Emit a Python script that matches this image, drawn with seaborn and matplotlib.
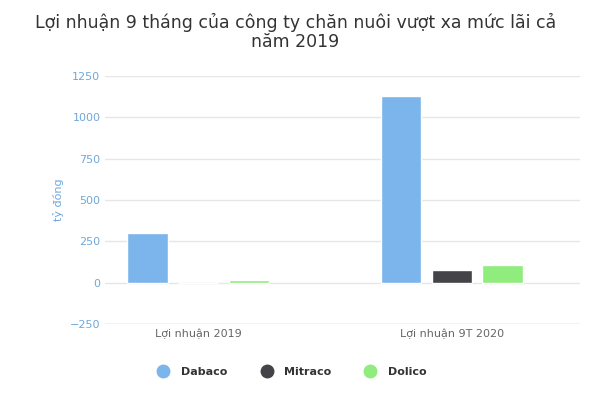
import matplotlib.pyplot as plt
import pandas as pd
import seaborn as sns

groups = ["Lợi nhuận 2019", "Lợi nhuận 9T 2020"]
companies = ["Dabaco", "Mitraco", "Dolico"]
dabaco = [298, 1127]
mitraco = [1, 78]
dolico = [18, 108]
colors = ["#7cb5ec", "#434348", "#90ed7d"]

df = pd.DataFrame({
    "group": groups * 3,
    "company": [c for c in companies for _ in groups],
    "value": dabaco + mitraco + dolico,
})

sns.set_style("white")
fig = plt.figure(figsize=(5.91, 4.0), dpi=100)
ax = fig.add_axes([0.178, 0.19, 0.803, 0.62])
sns.barplot(data=df, x="group", y="value", hue="company", palette=colors,
            width=0.6, gap=0.2, saturation=1, ax=ax, legend=False)

ax.set_xlim(-0.366, 1.504)
ax.set_ylim(-250, 1250)
ax.set_yticks(range(-250, 1251, 250))
ax.yaxis.grid(True, color="#e6e6e6", lw=1)
ax.set_axisbelow(True)
for s in ["top", "right", "left", "bottom"]:
    ax.spines[s].set_visible(False)
ax.axhline(-250, color="#ccd6eb", lw=1)
ax.tick_params(axis="y", colors="#6fa8dc", labelsize=8, length=0)
ax.tick_params(axis="x", colors="#666666", labelsize=8, length=0)
ax.set_xlabel("")
ax.set_ylabel("tỷ đồng", color="#6fa8dc", fontsize=8)

fig.text(0.5, 0.92, "Lợi nhuận 9 tháng của công ty chăn nuôi vượt xa mức lãi cả\nnăm 2019",
         ha="center", va="center", fontsize=12.5, color="#333333", linespacing=1.1)

handles = [plt.Line2D([], [], marker="o", ls="", color=c, markersize=9) for c in colors]
fig.legend(handles, companies, loc="center", bbox_to_anchor=(0.49, 0.07), ncol=3,
           frameon=False, prop={"size": 8, "weight": "bold"}, labelcolor="#333333",
           columnspacing=2.5, handletextpad=0.6)

fig.savefig("out.png", dpi=100)
